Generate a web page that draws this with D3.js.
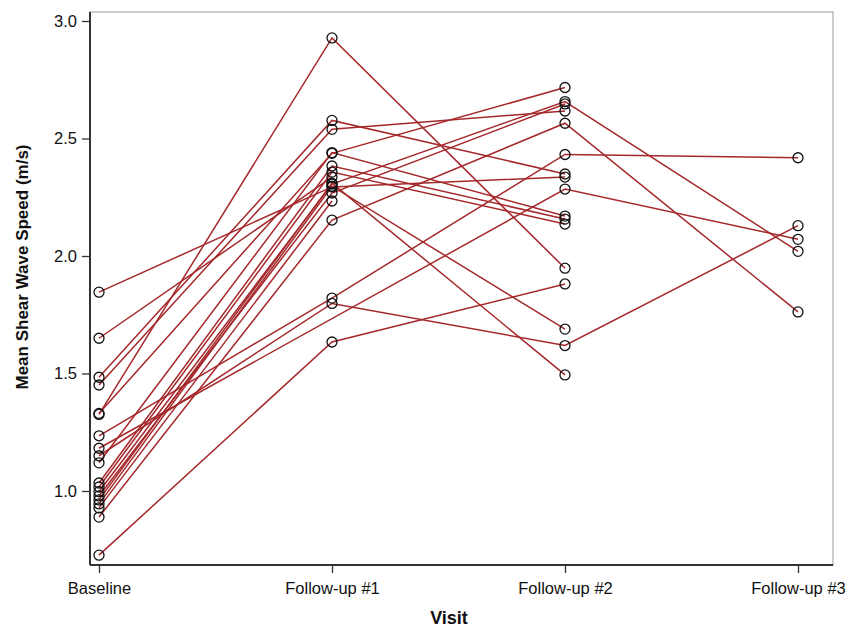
<!DOCTYPE html>
<html>
<head>
<meta charset="utf-8">
<script src="https://cdn.jsdelivr.net/npm/d3@7"></script>
<style>
  body { margin: 0; background: #fff; }
  text { font-family: "Liberation Sans", Arial, sans-serif; }
</style>
</head>
<body>
<script>
// visits on the x axis
let visits = ['Baseline', 'Follow-up #1', 'Follow-up #2', 'Follow-up #3'];

// one entry per subject, null = visit missing
let baseline  = [1.846, 1.650, 1.484, 1.451, 1.326, 1.330, 1.235, 1.182, 1.150, 1.120, 1.034, 1.017, 0.997, 0.979, 0.962, 0.945, 0.928, 0.889, 0.727];
let followUp1 = [2.294, 2.336, 2.577, 2.539, 2.928, 2.437, 1.821, null,  1.798, 2.440, 2.383, 2.357, 2.306, 2.268, 2.310, 2.297, 2.234, 2.153, 1.634];
let followUp2 = [2.336, null,  2.349, 2.617, 1.948, 2.717, 2.432, 2.285, 1.619, 2.170, 2.157, 2.136, 2.657, 2.647, 1.494, 1.689, null,  2.565, 1.881];
let followUp3 = [null,  null,  null,  null,  null,  null,  2.418, 2.071, 2.129, null,  null,  null,  2.020, null,  null,  null,  null,  1.762, null];

let yTicks = [1.0, 1.5, 2.0, 2.5, 3.0];

let w = 848, h = 628;
let pLeft = 90, pRight = 833, pTop = 12, pBottom = 565;

let svg = d3.select('body').append('svg')
    .attr('width', w)
    .attr('height', h);

let x = d3.scalePoint()
    .domain(visits)
    .range([99, 798]);

let y = d3.scaleLinear()
    .domain([3 - (pBottom - 21) / 235, 3 + (21 - pTop) / 235])
    .range([pBottom, pTop]);

// frame (top/right lighter)
svg.append('rect')
    .attr('x', pLeft).attr('y', pTop)
    .attr('width', pRight - pLeft).attr('height', pBottom - pTop)
    .attr('fill', 'none')
    .attr('stroke', '#9a9a9a')
    .attr('stroke-width', 1);

let xAxis = svg.append('g')
    .attr('transform', `translate(0,${pBottom})`)
    .call(d3.axisBottom(x).tickSize(8).tickPadding(9));
xAxis.select('.domain').attr('d', `M${pLeft},0H${pRight}`).attr('stroke', '#333').attr('stroke-width', 2);
xAxis.selectAll('.tick line').attr('stroke', '#333').attr('stroke-width', 1.3);
xAxis.selectAll('text').attr('font-size', 16.5).attr('fill', '#111')
    .attr('font-family', '"Liberation Sans", Arial, sans-serif');

let yAxis = svg.append('g')
    .attr('transform', `translate(${pLeft},0)`)
    .call(d3.axisLeft(y).tickValues(yTicks).tickFormat(d3.format('.1f')).tickSize(8).tickPadding(5));
yAxis.select('.domain').attr('d', `M0,${pTop}V${pBottom}`).attr('stroke', '#333').attr('stroke-width', 2);
yAxis.selectAll('.tick line').attr('stroke', '#333').attr('stroke-width', 1.3);
yAxis.selectAll('text').attr('font-size', 16.5).attr('fill', '#111')
    .attr('font-family', '"Liberation Sans", Arial, sans-serif');

// subjects
let series = [baseline, followUp1, followUp2, followUp3];
let subjects = baseline.map((b, i) =>
    series.map((s, v) => ({visit: visits[v], value: s[i]})).filter(p => p.value != null));

let line = d3.line()
    .x(d => x(d.visit))
    .y(d => y(d.value));

svg.append('g').selectAll('path')
    .data(subjects)
    .enter()
    .append('path')
    .attr('d', line)
    .attr('fill', 'none')
    .attr('stroke', '#a5282b')
    .attr('stroke-width', 1.5);

svg.append('g').selectAll('circle')
    .data(subjects.flat())
    .enter()
    .append('circle')
    .attr('cx', d => x(d.visit))
    .attr('cy', d => y(d.value))
    .attr('r', 5)
    .attr('fill', 'none')
    .attr('stroke', '#111')
    .attr('stroke-width', 1.3);

svg.append('text')
    .text('Visit')
    .attr('x', 449)
    .attr('y', 624)
    .attr('text-anchor', 'middle')
    .attr('font-size', 18)
    .attr('font-weight', 'bold')
    .attr('fill', '#111');

svg.append('text')
    .text('Mean Shear Wave Speed (m/s)')
    .attr('transform', `translate(28,267) rotate(-90)`)
    .attr('text-anchor', 'middle')
    .attr('font-size', 17)
    .attr('font-weight', 'bold')
    .attr('fill', '#111');
</script>
</body>
</html>
